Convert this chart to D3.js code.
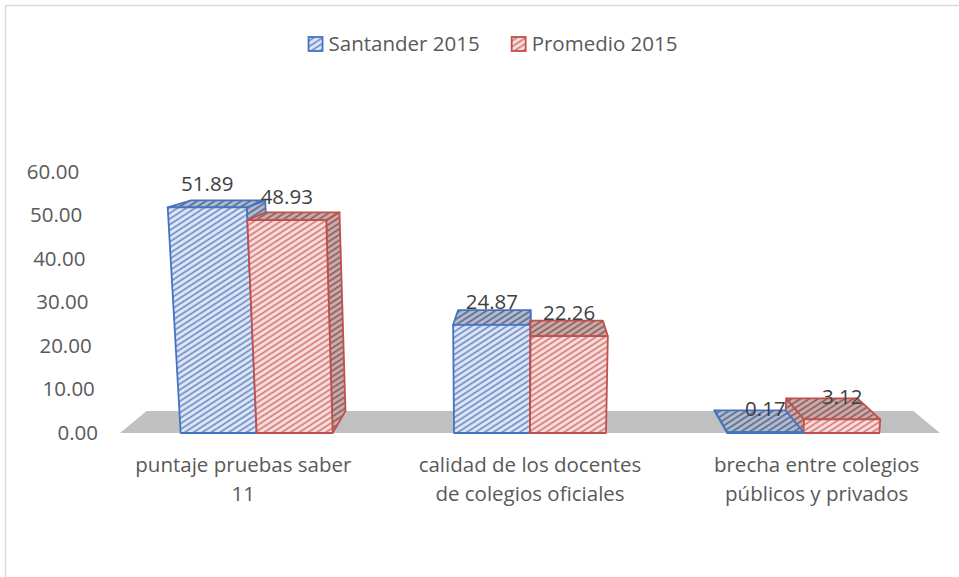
<!DOCTYPE html>
<html>
<head>
<meta charset="utf-8">
<script src="https://cdn.jsdelivr.net/npm/d3@7"></script>
<style>
  body { margin: 0; background: #fff; }
  text { font-family: "Open Sans", sans-serif; }
</style>
</head>
<body>
<div id="chart"></div>
<script>
// Data
var categories  = [["puntaje pruebas saber", "11"],
                   ["calidad de los docentes", "de colegios oficiales"],
                   ["brecha entre colegios", "públicos y privados"]];
var seriesNames = ["Santander 2015", "Promedio 2015"];
var santander   = [51.89, 24.87, 0.17];
var promedio    = [48.93, 22.26, 3.12];
var yTicks      = [0, 10, 20, 30, 40, 50, 60];

Chart3D = function (container) {
    this.d3 = d3.select(container);

    // SVG attr.
    this.width  = 959;
    this.height = 577;
    this.svg;

    // perspective params
    this.vx = 500;  this.kv = 0.00018;      // vertical edges converge below
    this.vd = 530;  this.shrink = 0.065;    // depth converges to centre
    this.depth = 22; this.depthSlope = 15 / 225;

    this.series = [santander, promedio];
    this.pal = [
        {line: "#4472c4", front: ["#e1e9f7", "#6383c2"], dark: ["#b3bed2", "#50617f"]},
        {line: "#c0504d", front: ["#f9e0df", "#cf706d"], dark: ["#cdaead", "#825453"]}
    ];

    this.createBase();
    this.createScales();
    this.createAxes();
    this.createBars();
    this.createLegend();
}

Chart3D.prototype.createBase = function () {
    this.svg = this.d3.append("svg")
                      .attr("width", this.width)
                      .attr("height", this.height);
    this.svg.append("rect")
            .attr("x", 5.5).attr("y", 5.5)
            .attr("width", 1000).attr("height", 1000)
            .attr("fill", "none").attr("stroke", "#d9d9d9").attr("stroke-width", 1.5);

    var defs = this.svg.append("defs");
    var self = this;
    this.pal.forEach(function (p, i) {
        self.hatch(defs, "front" + i, p.front[0], p.front[1]);
        self.hatch(defs, "dark" + i, p.dark[0], p.dark[1]);
    });
}

Chart3D.prototype.hatch = function (defs, id, bg, line) {
    var pat = defs.append("pattern").attr("id", id)
                  .attr("patternUnits", "userSpaceOnUse")
                  .attr("width", 10).attr("height", 4.8)
                  .attr("patternTransform", "rotate(-33)");
    pat.append("rect").attr("width", 10).attr("height", 4.8).attr("fill", bg);
    pat.append("line").attr("x1", 0).attr("x2", 10).attr("y1", 2.4).attr("y2", 2.4)
       .attr("stroke", line).attr("stroke-width", 1.6);
}

Chart3D.prototype.createScales = function () {
    this.x  = d3.scaleBand().domain(d3.range(categories.length))
                .range([120, 940]).paddingInner(0.444).paddingOuter(0.222);
    this.xs = d3.scaleBand().domain(d3.range(this.series.length))
                .range([0, this.x.bandwidth()]);
    this.y  = d3.scaleLinear().domain([0, 60]).range([433, 172]);
}

// project a point (screen x on the front floor, value, depth 0..1)
Chart3D.prototype.P = function (X, v, z) {
    var h  = this.y(0) - this.y(v);
    var xf = this.vx + (X - this.vx) * (1 + this.kv * h);
    var x  = this.vd + (xf - this.vd) * (1 - this.shrink * z);
    var yy = this.y(v) - z * (this.depth - this.depthSlope * h);
    return [x, yy];
}

Chart3D.prototype.createAxes = function () {
    var self = this;
    var ax = this.svg.append("g")
                 .attr("class", "axis axis--y")
                 .call(d3.axisLeft(this.y).tickValues(yTicks)
                         .tickFormat(d3.format(".2f")).tickSize(0).tickPadding(0));
    ax.select(".domain").remove();
    ax.selectAll(".tick")
      .attr("transform", function (d) { var p = self.P(98, d, 0); return "translate(" + p[0] + "," + p[1] + ")"; });
    ax.selectAll("text").attr("fill", "#595959").style("font-size", "20.5px")
      .style("font-family", "'Open Sans', sans-serif");

    // floor
    var f = [this.P(120, 0, 0), this.P(940, 0, 0), this.P(940, 0, 1), this.P(120, 0, 1)];
    this.svg.append("path").attr("d", "M" + f.join("L") + "Z").attr("fill", "#c0c0c0");

    // category labels
    var lab = this.svg.append("g").attr("class", "axis axis--x");
    categories.forEach(function (c, i) {
        var cx = self.P(self.x(i) + self.x.bandwidth() / 2, 0, -0.75)[0];
        var t = lab.append("text").attr("text-anchor", "middle")
                   .attr("fill", "#595959").style("font-size", "20.5px");
        c.forEach(function (line, k) {
            t.append("tspan").attr("x", cx).attr("y", 465 + k * 29).attr("dy", "0.35em").text(line);
        });
    });
}

Chart3D.prototype.createBars = function () {
    var self = this, bars = [];
    categories.forEach(function (c, i) {
        self.series.forEach(function (s, k) {
            var x0 = self.x(i) + self.xs(k);
            bars.push({x0: x0, x1: x0 + self.xs.bandwidth(), v: s[i], k: k});
        });
    });
    // paint the bars farthest from the centre first
    bars.sort(function (a, b) {
        return Math.abs((b.x0 + b.x1) / 2 - self.vd) - Math.abs((a.x0 + a.x1) / 2 - self.vd);
    });

    var g = this.svg.append("g");
    function face(pts, fill, k) {
        g.append("path").attr("d", "M" + pts.join("L") + "Z")
         .attr("fill", fill).attr("stroke", self.pal[k].line)
         .attr("stroke-width", 1.8).attr("stroke-linejoin", "round");
    }
    bars.forEach(function (b) {
        var P = self.P.bind(self), v = b.v, k = b.k;
        if ((b.x1 + b.x0) / 2 < self.vd)
            face([P(b.x1, 0, 0), P(b.x1, v, 0), P(b.x1, v, 1), P(b.x1, 0, 1)], "url(#dark" + k + ")", k);
        else
            face([P(b.x0, 0, 0), P(b.x0, v, 0), P(b.x0, v, 1), P(b.x0, 0, 1)], "url(#dark" + k + ")", k);
        face([P(b.x0, v, 0), P(b.x1, v, 0), P(b.x1, v, 1), P(b.x0, v, 1)], "url(#dark" + k + ")", k);
        face([P(b.x0, 0, 0), P(b.x1, 0, 0), P(b.x1, v, 0), P(b.x0, v, 0)], "url(#front" + k + ")", k);
    });

    // data labels
    bars.forEach(function (b) {
        var p = self.P((b.x0 + b.x1) / 2, b.v, 0);
        self.svg.append("text").attr("x", p[0]).attr("y", p[1] - 23).attr("dy", "0.35em")
            .attr("text-anchor", "middle").attr("fill", "#404040")
            .style("font-size", "20.5px").text(d3.format(".2f")(b.v));
    });
}

Chart3D.prototype.createLegend = function () {
    var self = this;
    var lg = this.svg.append("g").attr("class", "legend");
    var items = seriesNames.map(function (name, k) {
        var it = lg.append("g");
        it.append("rect").attr("x", 0).attr("y", -7).attr("width", 14).attr("height", 14)
          .attr("fill", "url(#front" + k + ")").attr("stroke", self.pal[k].line).attr("stroke-width", 1.8);
        var t = it.append("text").attr("x", 20).attr("dy", "0.35em")
                  .attr("fill", "#595959").style("font-size", "20.5px").text(name);
        return {g: it, w: 20 + t.node().getComputedTextLength()};
    });
    var total = d3.sum(items, function (d) { return d.w; }) + 32 * (items.length - 1);
    var x = 493 - total / 2;
    items.forEach(function (d) {
        d.g.attr("transform", "translate(" + x + ",44)");
        x += d.w + 32;
    });
}

new Chart3D("#chart");
</script>
</body>
</html>
